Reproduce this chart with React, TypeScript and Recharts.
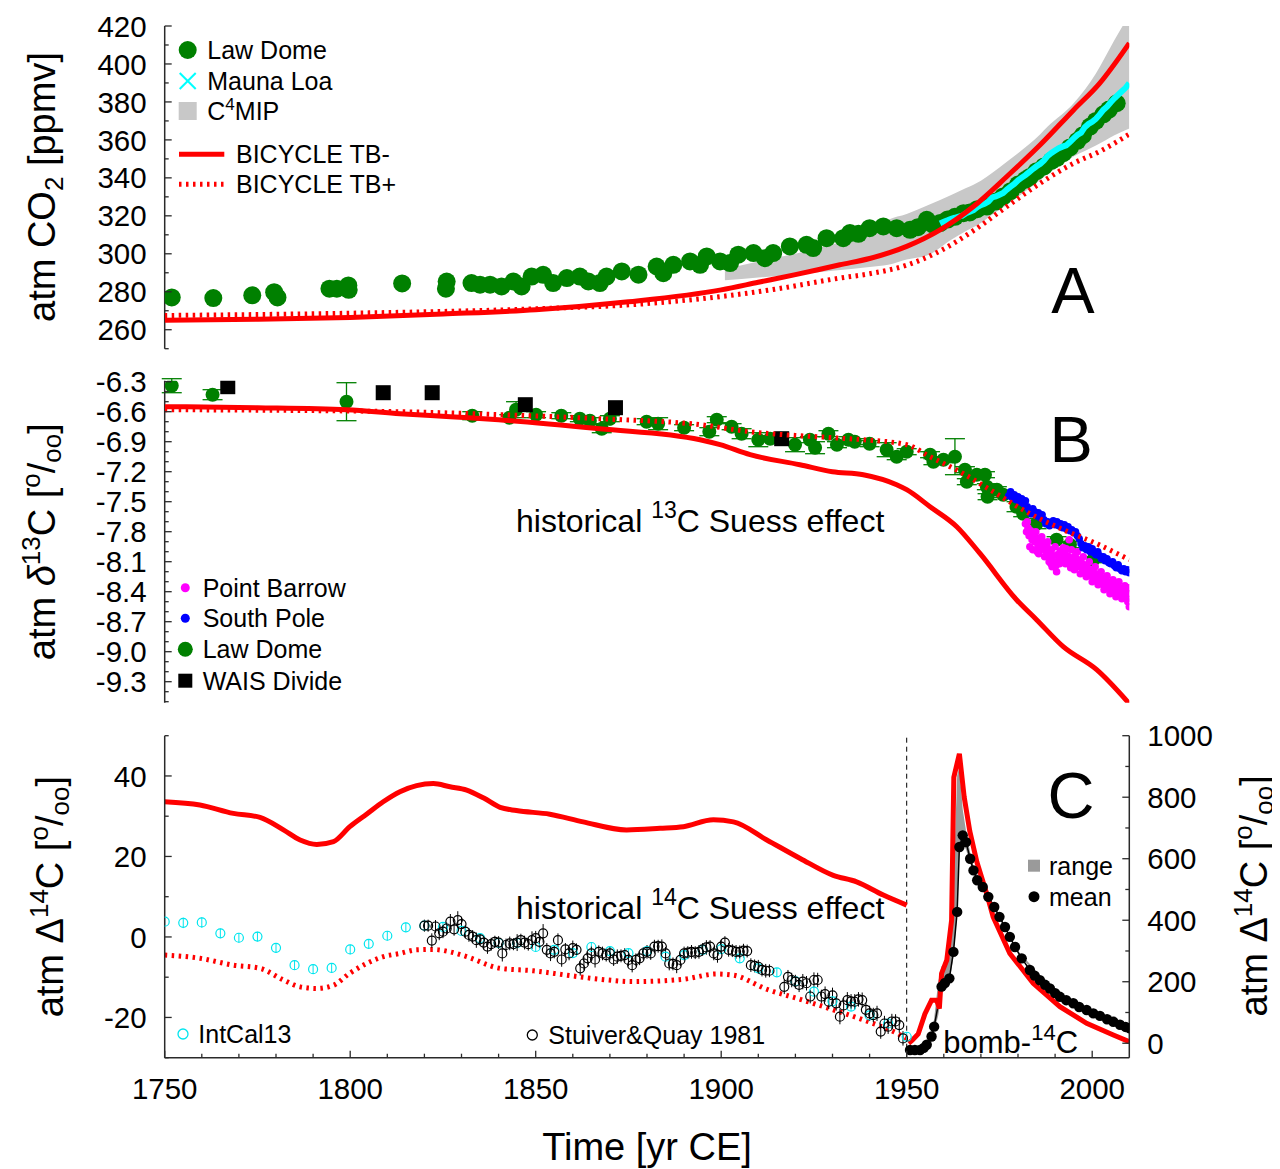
import React from 'react';
import { ComposedChart, Line, Scatter, Area, XAxis, YAxis, ReferenceLine, ErrorBar } from 'recharts';

const FONT = '"Liberation Sans", Arial, Helvetica, sans-serif';
const AX = '#2a2a2a';
const GREEN = '#008000';
const RED = '#ff0000';

// ---------- tick values ----------
const xTicks = [1750, 1760, 1770, 1780, 1790, 1800, 1810, 1820, 1830, 1840, 1850, 1860, 1870, 1880, 1890, 1900, 1910, 1920, 1930, 1940, 1950, 1960, 1970, 1980, 1990, 2000];
const xMajor = [1750, 1800, 1850, 1900, 1950, 2000];
const co2Ticks = [250, 260, 270, 280, 290, 300, 310, 320, 330, 340, 350, 360, 370, 380, 390, 400, 410, 420];
const co2Major = [260, 280, 300, 320, 340, 360, 380, 400, 420];
const d13Ticks = [-6.3, -6.4, -6.5, -6.6, -6.7, -6.8, -6.9, -7.0, -7.1, -7.2, -7.3, -7.4, -7.5, -7.6, -7.7, -7.8, -7.9, -8.0, -8.1, -8.2, -8.3, -8.4, -8.5, -8.6, -8.7, -8.8, -8.9, -9.0, -9.1, -9.2, -9.3, -9.4, -9.5];
const d13Major = [-6.3, -6.6, -6.9, -7.2, -7.5, -7.8, -8.1, -8.4, -8.7, -9.0, -9.3];
const d14Ticks = [-30, -20, -10, 0, 10, 20, 30, 40, 50];
const d14Major = [-20, 0, 20, 40];
const bombTicks = [0, 100, 200, 300, 400, 500, 600, 700, 800, 900, 1000];
const bombMajor = [0, 200, 400, 600, 800, 1000];

// ---------- Panel A: CO2 ----------
const lawDomeCO2Years = [1751.9, 1763.1, 1773.6, 1779.5, 1780.4, 1794.4, 1796.4, 1799.5, 1799.6, 1814, 1826, 1825.8, 1832.7, 1835, 1837.7, 1840.8, 1844, 1846.2, 1848.9, 1852, 1854.7, 1858.4, 1861.9, 1864.2, 1867.3, 1869.1, 1873.2, 1877.7, 1882.6, 1884.4, 1887.1, 1891.6, 1894.3, 1896.1, 1899.7, 1902.4, 1904.6, 1908.7, 1911.8, 1914, 1918.5, 1923, 1924.8, 1928.4, 1932.9, 1934.7, 1937, 1940, 1943.7, 1947.3, 1950.9, 1953, 1955.4, 1957, 1959, 1961, 1963, 1965.3, 1967, 1969, 1971.6, 1974, 1976, 1978, 1980, 1982, 1983.2, 1985, 1987, 1989, 1990.5, 1992.2, 1994, 1996, 1997.5, 1999.4, 2001, 2003, 2004.5, 2006.6];
const lawDomeCO2 = [277, 276.7, 278.1, 279.8, 277, 281.6, 281.6, 283.3, 281, 284.4, 285.4, 281.6, 284.6, 283.7, 283.7, 282.8, 285.4, 282.8, 288, 288.9, 284.6, 287.2, 288, 285.4, 284.6, 288, 290.7, 289, 293.3, 289.8, 294.2, 296, 294.2, 298.6, 296, 295.1, 299.5, 300.4, 297.7, 300.4, 303.9, 304.7, 303, 308.2, 308.2, 310.9, 310.5, 313.5, 314.4, 313.5, 312.6, 314, 317.9, 315.5, 316.2, 318, 319.5, 321.4, 321.8, 323.5, 324.9, 327.5, 330.2, 333, 336.5, 339, 340.5, 343.5, 346, 349, 350.5, 353, 356, 359.5, 362.5, 367, 370, 373.5, 376, 379.3];

const maunaLoaYears = [1959, 1960, 1961, 1962, 1963, 1964, 1965, 1966, 1967, 1968, 1969, 1970, 1971, 1972, 1973, 1974, 1975, 1976, 1977, 1978, 1979, 1980, 1981, 1982, 1983, 1984, 1985, 1986, 1987, 1988, 1989, 1990, 1991, 1992, 1993, 1994, 1995, 1996, 1997, 1998, 1999, 2000, 2001, 2002, 2003, 2004, 2005, 2006, 2007, 2008, 2009, 2010];
const maunaLoa = [315.97, 316.91, 317.64, 318.45, 318.99, 319.62, 320.04, 321.38, 322.16, 323.04, 324.62, 325.68, 326.32, 327.45, 329.68, 330.18, 331.11, 332.04, 333.83, 335.4, 336.84, 338.75, 340.11, 341.45, 343.05, 344.65, 346.12, 347.42, 349.19, 351.57, 353.12, 354.39, 355.61, 356.45, 357.1, 358.83, 360.82, 362.61, 363.73, 366.7, 368.38, 369.55, 371.14, 373.28, 375.8, 377.52, 379.8, 381.9, 383.79, 385.6, 387.43, 389.9];

const c4mipYears = [1901, 1910, 1920, 1930, 1940, 1945, 1950, 1956, 1962, 1966, 1970, 1973, 1977, 1980, 1986, 1988, 1995, 2001, 2006, 2010];
const c4mipLow = [286, 287.5, 289, 291, 293, 294.2, 297, 299.5, 307.4, 312, 316.2, 320.5, 325.8, 330, 338.9, 342, 351.2, 357, 362.5, 366];
const c4mipHigh = [292, 296, 300, 305, 311, 317.9, 321, 325.8, 331, 334.6, 338.5, 342.5, 348.5, 353, 363, 367, 379.3, 395, 412.6, 426];

const tbMinusCO2Years = [1750, 1775, 1800, 1825, 1850, 1875, 1900, 1910, 1920, 1932, 1940, 1950, 1959, 1968, 1977, 1986, 1995, 2002, 2010];
const tbMinusCO2 = [265, 265.5, 266.5, 268.3, 270.5, 274.7, 281, 285, 289, 294.2, 297.5, 303.9, 312.6, 324.9, 340.7, 357.4, 375.8, 389.8, 411];
const tbPlusCO2Years = [1750, 1800, 1850, 1876, 1900, 1915, 1932, 1940, 1950, 1959, 1968, 1977, 1986, 1995, 2002, 2010];
const tbPlusCO2 = [267.5, 268.7, 271, 273.2, 277.5, 281.5, 287.2, 289.5, 294, 301.5, 312.2, 324.9, 337.2, 347.7, 353.9, 363];

// ---------- Panel B: d13C ----------
const tbMinusD13Years = [1750, 1775, 1799, 1813.4, 1827, 1840, 1867.3, 1894.3, 1899.7, 1907.8, 1921.2, 1930, 1938.3, 1947.3, 1950, 1956.3, 1963.5, 1969.8, 1979.6, 1985, 1992.2, 2001.2, 2010];
const tbMinusD13 = [-6.55, -6.56, -6.58, -6.62, -6.65, -6.68, -6.77, -6.88, -6.93, -7.03, -7.13, -7.2, -7.23, -7.33, -7.38, -7.55, -7.75, -8.02, -8.48, -8.68, -8.95, -9.18, -9.52];
const tbPlusD13Years = [1750, 1813.4, 1840.4, 1867.3, 1894.3, 1907.8, 1930, 1938.3, 1950, 1956.3, 1965.3, 1974.2, 1983.2, 1992.2, 2001.2, 2010];
const tbPlusD13 = [-6.58, -6.6, -6.63, -6.67, -6.73, -6.8, -6.86, -6.88, -6.93, -7.05, -7.22, -7.42, -7.62, -7.78, -7.92, -8.08];

const lawDomeD13: [number, number, number][] = [
  [1751.9, -6.34, 0.07], [1762.9, -6.43, 0.05], [1799, -6.5, 0.19], [1832.9, -6.64, 0.04], [1842.9, -6.66, 0.03],
  [1844.7, -6.58, 0.08], [1850.1, -6.63, 0.03], [1856.9, -6.64, 0.03], [1861.9, -6.67, 0.03], [1864.6, -6.69, 0.03],
  [1867.8, -6.77, 0.04], [1870, -6.67, 0.03], [1879.9, -6.7, 0.03], [1883, -6.72, 0.06], [1890, -6.76, 0.03],
  [1896.8, -6.8, 0.04], [1898.8, -6.68, 0.03], [1902.8, -6.75, 0.03], [1905.5, -6.82, 0.05], [1910, -6.88, 0.07],
  [1913.2, -6.87, 0.03], [1919.9, -6.93, 0.07], [1923.9, -6.88, 0.03], [1925.3, -6.96, 0.06], [1928.9, -6.82, 0.03],
  [1931.2, -6.93, 0.03], [1934.3, -6.88, 0.03], [1936, -6.9, 0.03], [1940, -6.92, 0.03], [1944.6, -6.98, 0.07],
  [1947.3, -7.05, 0.03], [1950, -7.0, 0.03], [1956.3, -7.03, 0.03], [1957.2, -7.1, 0.03], [1959.9, -7.08, 0.03],
  [1963, -7.05, 0.18], [1965.7, -7.18, 0.03], [1966.2, -7.3, 0.03], [1968.9, -7.23, 0.03], [1971.1, -7.23, 0.03],
  [1971.6, -7.35, 0.03], [1971.8, -7.45, 0.03], [1974.3, -7.38, 0.03], [1976, -7.43, 0.03], [1979.6, -7.55, 0.05],
  [1981.4, -7.62, 0.03], [1985, -7.72, 0.05], [1990.4, -7.88, 0.03], [1994, -7.93, 0.03], [2000.3, -8.08, 0.03],
];
const waisYears = [1767, 1808.9, 1822.1, 1847.2, 1871.5, 1916.3];
const waisD13 = [-6.35, -6.41, -6.41, -6.53, -6.56, -6.87];

const southPoleYears = [1977.5, 1978, 1978.5, 1979, 1979.5, 1980, 1980.5, 1981, 1981.5, 1982, 1982.5, 1983, 1983.5, 1984, 1984.5, 1985, 1985.5, 1986, 1986.5, 1987, 1987.5, 1988, 1988.5, 1989, 1989.5, 1990, 1990.5, 1991, 1991.5, 1992, 1992.5, 1993, 1993.5, 1994, 1994.5, 1995, 1995.5, 1996, 1996.5, 1997, 1997.5, 1998, 1998.5, 1999, 1999.5, 2000, 2000.5, 2001, 2001.5, 2002, 2002.5, 2003, 2003.5, 2004, 2004.5, 2005, 2005.5, 2006, 2006.5, 2007, 2007.5, 2008, 2008.5, 2009, 2009.5, 2010];
const southPoleD13 = [-7.44, -7.4, -7.46, -7.43, -7.48, -7.45, -7.5, -7.47, -7.52, -7.49, -7.55, -7.58, -7.62, -7.57, -7.6, -7.64, -7.61, -7.66, -7.63, -7.68, -7.72, -7.7, -7.74, -7.71, -7.69, -7.73, -7.7, -7.74, -7.72, -7.76, -7.73, -7.77, -7.75, -7.79, -7.78, -7.81, -7.8, -7.84, -7.87, -7.92, -7.96, -7.94, -7.98, -7.95, -8.0, -7.97, -8.01, -8.03, -8.0, -8.04, -8.07, -8.05, -8.09, -8.07, -8.11, -8.12, -8.1, -8.14, -8.16, -8.13, -8.17, -8.19, -8.17, -8.2, -8.18, -8.21];

const pointBarrowYears = [1982, 1982.3, 1982.7, 1983, 1983.4, 1983.8, 1984.2, 1984.6, 1985, 1985.2, 1985.4, 1985.8, 1986.2, 1986.6, 1987, 1987.4, 1987.8, 1988.2, 1988.6, 1988.9, 1989, 1989.4, 1989.8, 1990.2, 1990.6, 1991, 1991.4, 1991.8, 1992.2, 1992.6, 1993, 1993.4, 1993.8, 1994.2, 1994.6, 1995, 1995.4, 1995.8, 1996.2, 1996.6, 1997, 1997.4, 1997.8, 1998.2, 1998.6, 1999, 1999.4, 1999.8, 2000.2, 2000.6, 2001, 2001.4, 2001.8, 2002.2, 2002.6, 2003, 2003.4, 2003.8, 2004.2, 2004.6, 2005, 2005.4, 2005.8, 2006.2, 2006.6, 2007, 2007.4, 2007.8, 2008.2, 2008.6, 2009, 2009.4, 2009.8, 2010];
const pointBarrowD13 = [-7.72, -7.8, -7.76, -7.84, -7.79, -7.88, -7.83, -7.9, -7.86, -8.0, -7.94, -7.89, -7.92, -7.97, -7.91, -7.99, -7.94, -8.02, -8.06, -8.12, -7.98, -8.04, -8.1, -8.14, -8.03, -8.08, -7.99, -8.05, -7.96, -8.02, -7.97, -8.04, -7.88, -8.16, -8.06, -8.11, -8.04, -8.12, -8.08, -8.15, -8.1, -8.17, -8.13, -8.2, -8.15, -8.22, -8.18, -8.24, -8.2, -8.27, -8.22, -8.28, -8.24, -8.3, -8.26, -8.33, -8.28, -8.34, -8.3, -8.36, -8.32, -8.38, -8.33, -8.4, -8.35, -8.41, -8.36, -8.43, -8.38, -8.44, -8.4, -8.47, -8.42, -8.55];
const pointBarrowYears2 = [1982.5, 1983.2, 1984, 1984.8, 1985.6, 1986.4, 1987.2, 1988, 1988.4, 1989.2, 1990, 1990.4, 1991.2, 1992, 1992.8, 1993.6, 1994.4, 1995.2, 1996, 1996.8, 1997.6, 1998.4, 1999.2, 2000, 2000.8, 2001.6, 2002.4, 2003.2, 2004, 2004.8, 2005.6, 2006.4, 2007.2, 2008, 2008.8, 2009.6, 2009.9];
const pointBarrowD13b = [-7.7, -7.95, -7.98, -7.8, -8.02, -7.85, -8.05, -7.9, -8.1, -8.15, -7.95, -8.2, -8.12, -8.08, -8.12, -8.1, -7.98, -8.18, -8.0, -8.22, -8.05, -8.25, -8.1, -8.3, -8.15, -8.33, -8.2, -8.38, -8.24, -8.42, -8.28, -8.45, -8.3, -8.47, -8.34, -8.5, -8.36];

// ---------- Panel C: D14C ----------
const tbMinusD14Years = [1750, 1759.5, 1768.5, 1775.7, 1782, 1786.5, 1791, 1795.5, 1799.9, 1804.4, 1808.9, 1813.4, 1817.9, 1822.4, 1826.9, 1831.4, 1836, 1840.4, 1844.8, 1853.8, 1862.8, 1874.5, 1883.5, 1889.8, 1897.9, 1903.3, 1912.3, 1921.3, 1930.2, 1936.5, 1943.7, 1950];
const tbMinusD14 = [33.6, 32.8, 30.7, 29.7, 26.6, 24.1, 23, 23.7, 27.4, 30.5, 33.6, 36.1, 37.6, 38.1, 37.3, 36.5, 34.5, 32.2, 31.4, 30.5, 28.6, 26.6, 27, 27.4, 29.1, 28.6, 24.1, 19.5, 15.3, 13.7, 10.4, 7.9];
const tbPlusD14Years = [1750, 1759.5, 1768.5, 1775.7, 1782, 1786.5, 1791, 1795.5, 1799.9, 1804.4, 1808.9, 1813.4, 1817.9, 1822.4, 1826.9, 1831.4, 1840.4, 1849.4, 1858.4, 1867.3, 1876.3, 1889.8, 1898.8, 1903.3, 1912.3, 1921.3, 1930.2, 1938.3, 1947.3, 1950];
const tbPlusD14 = [-4.5, -5.3, -7, -7.8, -10.7, -12.4, -12.8, -12, -9, -6.6, -4.9, -4.1, -3.2, -3.1, -3.7, -4.9, -7.8, -8.4, -9.5, -10.5, -11.1, -10.5, -9.2, -9.5, -13, -15.5, -18.1, -20.6, -23.9, -25.2];

const intcalYears = [1750, 1755, 1760, 1765, 1770, 1775, 1780, 1785, 1790, 1795, 1800, 1805, 1810, 1815, 1820, 1825, 1830, 1835, 1840, 1845, 1850, 1855, 1860, 1865, 1870, 1875, 1880, 1885, 1890, 1895, 1900, 1905, 1910, 1915, 1920, 1925, 1930, 1935, 1940, 1945, 1950];
const intcalD14 = [3.8, 3.5, 3.6, 0.9, -0.2, 0.1, -2.7, -7, -8, -7.7, -3.1, -1.7, 0.3, 2.4, 2.8, 2.5, 1.5, -0.3, -1.5, -1.5, -2.5, -3.2, -4, -2.5, -3.5, -4, -3.5, -4.9, -4.5, -3.2, -3, -5.3, -7.8, -8.8, -11, -13.6, -16, -17.3, -19.5, -21.5, -24.8];
const intcalErr = [1.3, 1.3, 1.3, 1.2, 1.2, 1.2, 1.2, 1.2, 1.2, 1.2, 1.2, 1.2, 1.2, 1.2, 1.2, 1.1, 1.1, 1.1, 1.1, 1.1, 1.1, 1.1, 1.1, 1.1, 1.1, 1.1, 1.1, 1.1, 1.1, 1.1, 1.1, 1.1, 1.1, 1.1, 1.1, 1.1, 1.1, 1.1, 1.1, 1.1, 1.1];

const stuiverQuay: [number, number, number][] = [
  [1820, 2.8, 1.5], [1821, 2.8, 1.5], [1822, -0.9, 1.8], [1823, 2.6, 1.6], [1824, 0.9, 1.7], [1825, 1.3, 1.6], [1826, 2.1, 1.5], [1827, 3.8, 1.9], [1828, 1.9, 1.6], [1829, 4.2, 2.2],
  [1830, 3.2, 1.8], [1831, 1.3, 1.6], [1832, 0.5, 1.7], [1833, 0.1, 1.6], [1834, -0.8, 1.9], [1835, -0.6, 1.5], [1836, -1.4, 1.7], [1837, -2.4, 1.8], [1838, -1.8, 1.6], [1839, -1.2, 1.5],
  [1840, -1.4, 1.6], [1841, -4.1, 2.0], [1842, -2, 1.6], [1843, -1.6, 1.7], [1844, -1.8, 1.5], [1845, -1.4, 2.1], [1846, -0.8, 1.6], [1847, -1.4, 1.7], [1848, -1.8, 1.6], [1849, -0.8, 2.2],
  [1850, -0.3, 1.8], [1851, -1.2, 1.6], [1852, 0.9, 2.3], [1853, -3.2, 1.7], [1854, -4.1, 1.9], [1855, -3.7, 1.6], [1856, -0.8, 1.7], [1857, -5.6, 1.8], [1858, -3.1, 1.6], [1859, -4.1, 1.7],
  [1860, -2.8, 1.9], [1861, -3.2, 1.6], [1862, -7.8, 1.8], [1863, -6.6, 1.7], [1864, -5.3, 1.6], [1865, -4.1, 1.7], [1866, -5.6, 2.0], [1867, -3.7, 1.6], [1868, -4.1, 1.7], [1869, -4.5, 1.6],
  [1870, -4.1, 1.7], [1871, -5.6, 1.6], [1872, -4.9, 1.8], [1873, -4.7, 1.6], [1874, -4.5, 1.7], [1875, -5.7, 1.6], [1876, -7, 1.8], [1877, -5.7, 1.6], [1878, -5.3, 1.7], [1879, -4.1, 1.6],
  [1880, -3.7, 1.7], [1881, -4.1, 1.6], [1882, -2.4, 1.7], [1883, -2.3, 1.6], [1884, -2.4, 1.8], [1885, -4.1, 1.6], [1886, -6.6, 1.7], [1887, -6.7, 1.6], [1888, -7, 2.0], [1889, -5.7, 1.6],
  [1890, -4.1, 1.7], [1891, -3.9, 1.6], [1892, -3.7, 1.7], [1893, -3.9, 1.6], [1894, -3.7, 1.7], [1895, -3.1, 1.6], [1896, -2.6, 1.8], [1897, -2.4, 1.6], [1898, -4.1, 1.7], [1899, -4.5, 1.9],
  [1900, -2.4, 1.7], [1901, -1.4, 1.6], [1902, -3.2, 1.7], [1903, -3.4, 1.6], [1904, -3.7, 1.7], [1905, -3.7, 1.6], [1906, -3.4, 1.7], [1907, -3.5, 1.6], [1908, -7, 1.7], [1909, -7.2, 1.6],
  [1910, -7.4, 1.7], [1911, -8.2, 1.6], [1912, -8.4, 1.7], [1913, -8.4, 1.6], [1917, -12.4, 1.8], [1918, -9.9, 1.7], [1919, -10.7, 1.8], [1920, -11.1, 1.7], [1921, -11.9, 1.8], [1922, -11.1, 1.9],
  [1923, -11.5, 1.8], [1924, -14.8, 1.7], [1925, -10.7, 1.9], [1926, -10.7, 1.8], [1927, -14.8, 1.7], [1928, -14.2, 1.9], [1929, -16.1, 1.8], [1930, -14.5, 1.9], [1931, -16.5, 1.8], [1932, -19.8, 1.9],
  [1933, -17, 1.8], [1934, -15.7, 2.0], [1935, -16, 1.8], [1936, -16.1, 1.9], [1937, -15.5, 1.8], [1938, -15.7, 1.9], [1939, -18.1, 1.8], [1940, -19, 1.9], [1941, -19.4, 1.8], [1942, -19, 1.9],
  [1943, -23.5, 1.8], [1944, -21.5, 1.9], [1945, -22.3, 1.8], [1946, -21, 1.9], [1947, -21, 1.8], [1948, -21.9, 1.9], [1949, -25.2, 1.8],
];

const bombModelYears = [1950.5, 1951.5, 1953.1, 1954.9, 1956.7, 1958.1, 1958.8, 1959.4, 1960.8, 1962.1, 1962.7, 1964.2, 1965.5, 1967, 1968.9, 1971.6, 1973.3, 1977.8, 1984.1, 1991.3, 1998.5, 2005.7, 2010];
const bombModel = [0, 10, 30, 95, 140, 140, 113, 227, 270, 400, 865, 941, 800, 690, 590, 485, 411, 292, 195, 119, 65, 27, 5];

const bombMeanYears = [1950.9, 1952.2, 1953.6, 1954.6, 1955.4, 1956.7, 1957.4, 1959.4, 1960.3, 1961.5, 1962.6, 1963.6, 1964.2, 1965.1, 1966, 1967.1, 1968, 1969, 1970.5, 1972, 1973.6, 1975, 1976.5, 1977.8, 1979.2, 1981, 1983.2, 1984.5, 1985.9, 1987.3, 1988.6, 1990, 1991.3, 1993, 1994.9, 1996.5, 1998.5, 2000.3, 2002.1, 2004, 2005.7, 2007.5, 2009, 2010];
const bombMean = [-22, -22, -22, -15, -5, 22, 54, 184, 196, 211, 297, 427, 638, 676, 654, 600, 562, 530, 508, 476, 443, 411, 378, 346, 313, 276, 238, 220, 205, 190, 178, 163, 151, 140, 130, 118, 108, 97, 89, 78, 70, 60, 53, 49];

const bombRangeYears = [1950.9, 1953.6, 1955.4, 1956.7, 1957.4, 1958.5, 1959.4, 1960.3, 1961.5, 1962.6, 1963.6, 1964.2, 1965.1, 1966, 1967.1, 1968, 1970.5, 1975, 1980, 1990, 2000, 2010];
const bombRangeLow = [-25, -25, -10, 10, 40, 90, 160, 185, 200, 280, 420, 620, 650, 630, 585, 550, 500, 405, 290, 160, 95, 46];
const bombRangeHigh = [-18, -18, 5, 40, 80, 200, 250, 260, 280, 520, 870, 900, 760, 690, 620, 575, 515, 418, 300, 168, 102, 52];

// ---------- data assembly ----------
const zip = (years: number[], vals: number[]) => years.map((year, i) => ({ year, v: vals[i] }));
const zipRange = (years: number[], lo: number[], hi: number[]) => years.map((year, i) => ({ year, range: [lo[i], hi[i]] }));

const lawDomeCO2Data = zip(lawDomeCO2Years, lawDomeCO2);
const maunaLoaData = zip(maunaLoaYears, maunaLoa);
const c4mipData = zipRange(c4mipYears, c4mipLow, c4mipHigh);
const tbMinusCO2Data = zip(tbMinusCO2Years, tbMinusCO2);
const tbPlusCO2Data = zip(tbPlusCO2Years, tbPlusCO2);

const tbMinusD13Data = zip(tbMinusD13Years, tbMinusD13);
const tbPlusD13Data = zip(tbPlusD13Years, tbPlusD13);
const lawDomeD13Data = lawDomeD13.map(([year, v, err]) => ({ year, v, err }));
const waisData = zip(waisYears, waisD13);
const southPoleData = zip(southPoleYears, southPoleD13);
const pointBarrowData = [...zip(pointBarrowYears, pointBarrowD13), ...zip(pointBarrowYears2, pointBarrowD13b)];

const tbMinusD14Data = zip(tbMinusD14Years, tbMinusD14);
const tbPlusD14Data = zip(tbPlusD14Years, tbPlusD14);
const intcalData = intcalYears.map((year, i) => ({ year, v: intcalD14[i], err: intcalErr[i] }));
const stuiverData = stuiverQuay.map(([year, v, err]) => ({ year, v, err }));
const bombModelData = zip(bombModelYears, bombModel);
const bombMeanData = zip(bombMeanYears, bombMean);
const bombRangeData = zipRange(bombRangeYears, bombRangeLow, bombRangeHigh);

// ---------- ticks ----------
type Side = 'left' | 'right' | 'top' | 'bottom';
function tickRenderer(side: Side, majors: number[], labels: boolean, fmt: (v: number) => string) {
  return (props: any) => {
    const { x, y, payload, index } = props;
    const v = Number(payload.value);
    const major = majors.some((m) => Math.abs(m - v) < 1e-6);
    const len = major ? 7 : 4;
    let x2 = x;
    let y2 = y;
    if (side === 'left') x2 = x + len;
    else if (side === 'right') x2 = x - len;
    else if (side === 'top') y2 = y + len;
    else y2 = y - len;
    let label: any = null;
    if (labels && major) {
      const common = { fontFamily: FONT, fontSize: 29.5, fill: '#000' };
      if (side === 'left') label = <text x={x - 18} y={y} dy="0.36em" textAnchor="end" {...common}>{fmt(v)}</text>;
      else if (side === 'right') label = <text x={x + 18} y={y} dy="0.36em" textAnchor="start" {...common}>{fmt(v)}</text>;
      else if (side === 'bottom') label = <text x={x} y={y + 31} dy="0.36em" textAnchor="middle" {...common}>{fmt(v)}</text>;
    }
    return (
      <g key={`t-${side}-${index}`}>
        <line x1={x} y1={y} x2={x2} y2={y2} stroke={AX} strokeWidth={1.3} />
        {label}
      </g>
    );
  };
}
const fmtInt = (v: number) => String(Math.round(v));
const fmt1 = (v: number) => v.toFixed(1);
const axisLine = { stroke: AX, strokeWidth: 1.5 };

function xAxes(bottomHeight: number, labels: boolean) {
  return [
    <XAxis key="xb" xAxisId="b" dataKey="year" type="number" domain={[1750, 2010]} allowDataOverflow ticks={xTicks} interval={0}
      orientation="bottom" height={bottomHeight} tickLine={false} tickSize={0} tickMargin={0} axisLine={axisLine}
      tick={tickRenderer('bottom', xMajor, labels, fmtInt)} />,
    <XAxis key="xt" xAxisId="t" dataKey="year" type="number" domain={[1750, 2010]} allowDataOverflow ticks={xTicks} interval={0}
      orientation="top" height={0} tickLine={false} tickSize={0} tickMargin={0} axisLine={axisLine}
      tick={tickRenderer('top', xMajor, false, fmtInt)} />,
  ];
}

// ---------- shapes ----------
const dotShape = (r: number, fill: string) => (p: any) => <circle cx={p.cx} cy={p.cy} r={r} fill={fill} />;
const ringShape = (r: number, stroke: string) => (p: any) => <circle cx={p.cx} cy={p.cy} r={r} fill="none" stroke={stroke} strokeWidth={1.2} />;
const squareShape = (s: number, fill: string) => (p: any) => <rect x={p.cx - s / 2} y={p.cy - s / 2} width={s} height={s} fill={fill} />;
const noShape = () => <g />;
const solidRed = { stroke: RED, strokeWidth: 5, fill: 'none' };
const dottedRed = { stroke: RED, strokeWidth: 5, strokeDasharray: '2.5 4.5', fill: 'none' };

function PanelA() {
  return (
    <ComposedChart width={1272} height={352} margin={{ top: 18, right: 150.7, bottom: 11.3, left: 76.7 }}>
      {xAxes(0, false)}
      <YAxis yAxisId="r" orientation="right" type="number" domain={[250, 420]} allowDataOverflow ticks={co2Ticks} interval={0}
        width={0} tickLine={false} tickSize={0} tickMargin={0} axisLine={axisLine} tick={tickRenderer('right', co2Major, false, fmtInt)} />
      <YAxis yAxisId="l" orientation="left" type="number" domain={[250, 420]} allowDataOverflow ticks={co2Ticks} interval={0}
        width={80} tickLine={false} tickSize={0} tickMargin={0} axisLine={axisLine} tick={tickRenderer('left', co2Major, true, fmtInt)} />
      <Area data={c4mipData} xAxisId="b" yAxisId="l" dataKey="range" type="monotone" stroke="none" fill="#c8c8c8" fillOpacity={1} isAnimationActive={false} />
      <Scatter data={lawDomeCO2Data} xAxisId="b" yAxisId="l" dataKey="v" shape={dotShape(9, GREEN)} isAnimationActive={false} />
      <Scatter data={maunaLoaData} xAxisId="b" yAxisId="l" dataKey="v" line={{ stroke: '#00ffff', strokeWidth: 6, fill: 'none' }} lineJointType="linear" shape={noShape} isAnimationActive={false} />
      <Scatter data={tbPlusCO2Data} xAxisId="b" yAxisId="l" dataKey="v" line={dottedRed} lineJointType="monotone" shape={noShape} isAnimationActive={false} />
      <Scatter data={tbMinusCO2Data} xAxisId="b" yAxisId="l" dataKey="v" line={solidRed} lineJointType="monotone" shape={noShape} isAnimationActive={false} />
    </ComposedChart>
  );
}

function PanelB() {
  return (
    <ComposedChart width={1272} height={355} margin={{ top: 20.7, right: 150.7, bottom: 12.3, left: 76.7 }}>
      {xAxes(0, false)}
      <YAxis yAxisId="r" orientation="right" type="number" domain={[-9.51, -6.29]} allowDataOverflow ticks={d13Ticks} interval={0}
        width={0} tickLine={false} tickSize={0} tickMargin={0} axisLine={axisLine} tick={tickRenderer('right', d13Major, false, fmt1)} />
      <YAxis yAxisId="l" orientation="left" type="number" domain={[-9.51, -6.29]} allowDataOverflow ticks={d13Ticks} interval={0}
        width={80} tickLine={false} tickSize={0} tickMargin={0} axisLine={axisLine} tick={tickRenderer('left', d13Major, true, fmt1)} />
      <Scatter data={lawDomeD13Data} xAxisId="b" yAxisId="l" dataKey="v" shape={dotShape(7, GREEN)} isAnimationActive={false}>
        <ErrorBar dataKey="err" direction="y" width={10} stroke={GREEN} strokeWidth={1.3} />
      </Scatter>
      <Scatter data={pointBarrowData} xAxisId="b" yAxisId="l" dataKey="v" shape={dotShape(3.8, '#ff00ff')} isAnimationActive={false} />
      <Scatter data={southPoleData} xAxisId="b" yAxisId="l" dataKey="v" shape={dotShape(3.8, '#0000ff')} isAnimationActive={false} />
      <Scatter data={waisData} xAxisId="b" yAxisId="l" dataKey="v" shape={squareShape(15, '#000')} isAnimationActive={false} />
      <Scatter data={tbPlusD13Data} xAxisId="b" yAxisId="l" dataKey="v" line={dottedRed} lineJointType="monotone" shape={noShape} isAnimationActive={false} />
      <Scatter data={tbMinusD13Data} xAxisId="b" yAxisId="l" dataKey="v" line={solidRed} lineJointType="monotone" shape={noShape} isAnimationActive={false} />
    </ComposedChart>
  );
}

function PanelC() {
  return (
    <ComposedChart width={1272} height={454} margin={{ top: 20.7, right: 70.7, bottom: 61.3, left: 76.7 }}>
      {xAxes(50, true)}
      <YAxis yAxisId="l" orientation="left" type="number" domain={[-30, 50]} allowDataOverflow ticks={d14Ticks} interval={0}
        width={80} tickLine={false} tickSize={0} tickMargin={0} axisLine={axisLine} tick={tickRenderer('left', d14Major, true, fmtInt)} />
      <YAxis yAxisId="r" orientation="right" type="number" domain={[-47, 1000]} allowDataOverflow ticks={bombTicks} interval={0}
        width={80} tickLine={false} tickSize={0} tickMargin={0} axisLine={axisLine} tick={tickRenderer('right', bombMajor, true, fmtInt)} />
      <ReferenceLine x={1950} xAxisId="b" yAxisId="l" stroke="#000" strokeWidth={1} strokeDasharray="5 4" />
      <Line data={tbMinusD14Data} xAxisId="b" yAxisId="l" dataKey="v" type="monotone" stroke={RED} strokeWidth={5} dot={false} isAnimationActive={false} />
      <Line data={tbPlusD14Data} xAxisId="b" yAxisId="l" dataKey="v" type="monotone" stroke={RED} strokeWidth={5} strokeDasharray="2.5 4.5" dot={false} isAnimationActive={false} />
      <Scatter data={intcalData} xAxisId="b" yAxisId="l" dataKey="v" shape={ringShape(4.5, '#00e5ee')} isAnimationActive={false}>
        <ErrorBar dataKey="err" direction="y" width={0} stroke="#00e5ee" strokeWidth={1} />
      </Scatter>
      <Scatter data={stuiverData} xAxisId="b" yAxisId="l" dataKey="v" shape={ringShape(4.5, '#000')} isAnimationActive={false}>
        <ErrorBar dataKey="err" direction="y" width={0} stroke="#000" strokeWidth={1} />
      </Scatter>
      <Area data={bombRangeData} xAxisId="b" yAxisId="r" dataKey="range" type="linear" stroke="none" fill="#9a9a9a" fillOpacity={1} isAnimationActive={false} />
      <Line data={bombMeanData} xAxisId="b" yAxisId="r" dataKey="v" type="linear" stroke="#000" strokeWidth={1.5}
        dot={(p: any) => <circle key={`m-${p.index}`} cx={p.cx} cy={p.cy} r={5.2} fill="#000" />} isAnimationActive={false} />
      <Line data={bombModelData} xAxisId="b" yAxisId="r" dataKey="v" type="linear" stroke={RED} strokeWidth={5} dot={false} isAnimationActive={false} />
    </ComposedChart>
  );
}

function Overlay() {
  const t = { fontFamily: FONT, fill: '#000' };
  const leg = { fontFamily: FONT, fill: '#000', fontSize: 25 };
  const d14Title = (
    <>
      atm Δ<tspan dy={-15} fontSize={26}>14</tspan><tspan dy={15}>C [</tspan><tspan dy={-15} fontSize={26}>o</tspan><tspan dy={15}>/</tspan><tspan dy={6} fontSize={26}>oo</tspan><tspan dy={-6}>]</tspan>
    </>
  );
  return (
    <svg width={1272} height={1161} style={{ position: 'absolute', left: 0, top: 0, pointerEvents: 'none' }}>
      {/* axis titles */}
      <text transform="translate(47,179) rotate(-90)" textAnchor="middle" fontSize={38} {...t}>
        atm CO<tspan dy={8} fontSize={26}>2</tspan><tspan dy={-8}> [ppmv]</tspan>
      </text>
      <text transform="translate(47,533.7) rotate(-90)" textAnchor="middle" fontSize={38} {...t}>
        atm <tspan fontStyle="italic">δ</tspan><tspan dy={-15} fontSize={26}>13</tspan><tspan dy={15}>C [</tspan><tspan dy={-15} fontSize={26}>o</tspan><tspan dy={15}>/</tspan><tspan dy={6} fontSize={26}>oo</tspan><tspan dy={-6}>]</tspan>
      </text>
      <text transform="translate(55.3,888.7) rotate(-90)" textAnchor="middle" fontSize={38} {...t}>{d14Title}</text>
      <text transform="translate(1258.7,887.8) rotate(-90)" textAnchor="middle" fontSize={38} {...t}>{d14Title}</text>
      <text x={639} y={1152} textAnchor="middle" fontSize={38} {...t}>Time [yr CE]</text>

      {/* annotations */}
      <text x={508} y={523.7} fontSize={32} {...t}>historical <tspan dy={-14} fontSize={23}>13</tspan><tspan dy={14}>C Suess effect</tspan></text>
      <text x={508} y={911.3} fontSize={32} {...t}>historical <tspan dy={-14} fontSize={23}>14</tspan><tspan dy={14}>C Suess effect</tspan></text>
      <text x={935.3} y={1045.3} fontSize={31} {...t}>bomb-<tspan dy={-13} fontSize={22}>14</tspan><tspan dy={13}>C</tspan></text>
      <text x={1065} y={305.3} textAnchor="middle" fontSize={65} {...t}>A</text>
      <text x={1063.3} y={453.7} textAnchor="middle" fontSize={65} {...t}>B</text>
      <text x={1063} y={810} textAnchor="middle" fontSize={65} {...t}>C</text>

      {/* legend A */}
      <circle cx={179.7} cy={42} r={9} fill={GREEN} />
      <line x1={171.7} y1={65} x2={187.7} y2={81} stroke="#00ffff" strokeWidth={2} />
      <line x1={171.7} y1={81} x2={187.7} y2={65} stroke="#00ffff" strokeWidth={2} />
      <rect x={170.7} y={94} width={18} height={18} fill="#c8c8c8" />
      <line x1={171} y1={146.3} x2={216.3} y2={146.3} stroke={RED} strokeWidth={5} />
      <line x1={171} y1={176.3} x2={216.3} y2={176.3} stroke={RED} strokeWidth={5} strokeDasharray="2.5 4.5" />
      <text x={199.3} y={42} dy="0.36em" {...leg}>Law Dome</text>
      <text x={199.3} y={73} dy="0.36em" {...leg}>Mauna Loa</text>
      <text x={199.3} y={103} dy="0.36em" {...leg}>C<tspan dy={-10} fontSize={17}>4</tspan><tspan dy={10}>MIP</tspan></text>
      <text x={228} y={146.3} dy="0.36em" {...leg}>BICYCLE TB-</text>
      <text x={228} y={176.3} dy="0.36em" {...leg}>BICYCLE TB+</text>

      {/* legend B */}
      <circle cx={177.3} cy={579.7} r={4.5} fill="#ff00ff" />
      <circle cx={177.3} cy={610.3} r={4.5} fill="#0000ff" />
      <circle cx={177.3} cy={641.3} r={7.5} fill={GREEN} />
      <rect x={170.3} y={665.7} width={14} height={14} fill="#000" />
      <text x={194.7} y={579.7} dy="0.36em" {...leg}>Point Barrow</text>
      <text x={194.7} y={610.3} dy="0.36em" {...leg}>South Pole</text>
      <text x={194.7} y={641.3} dy="0.36em" {...leg}>Law Dome</text>
      <text x={194.7} y={672.7} dy="0.36em" {...leg}>WAIS Divide</text>

      {/* legend C */}
      <circle cx={175} cy={1026} r={5} fill="none" stroke="#00e5ee" strokeWidth={1.3} />
      <text x={190.3} y={1026} dy="0.36em" {...leg}>IntCal13</text>
      <circle cx={524.3} cy={1027} r={5} fill="none" stroke="#000" strokeWidth={1.3} />
      <text x={540.3} y={1027} dy="0.36em" {...leg}>Stuiver&amp;Quay 1981</text>
      <rect x={1020} y={851.7} width={12} height={12} fill="#9a9a9a" />
      <text x={1041} y={857.7} dy="0.36em" {...leg}>range</text>
      <circle cx={1026} cy={888.7} r={5.5} fill="#000" />
      <text x={1041} y={888.7} dy="0.36em" {...leg}>mean</text>
    </svg>
  );
}

export default function App() {
  return (
    <div style={{ position: 'relative', width: 1272, height: 1161, fontFamily: FONT, background: '#fff' }}>
      <div style={{ position: 'absolute', left: 0, top: 0 }}><PanelA /></div>
      <div style={{ position: 'absolute', left: 0, top: 352 }}><PanelB /></div>
      <div style={{ position: 'absolute', left: 0, top: 707 }}><PanelC /></div>
      <Overlay />
    </div>
  );
}
